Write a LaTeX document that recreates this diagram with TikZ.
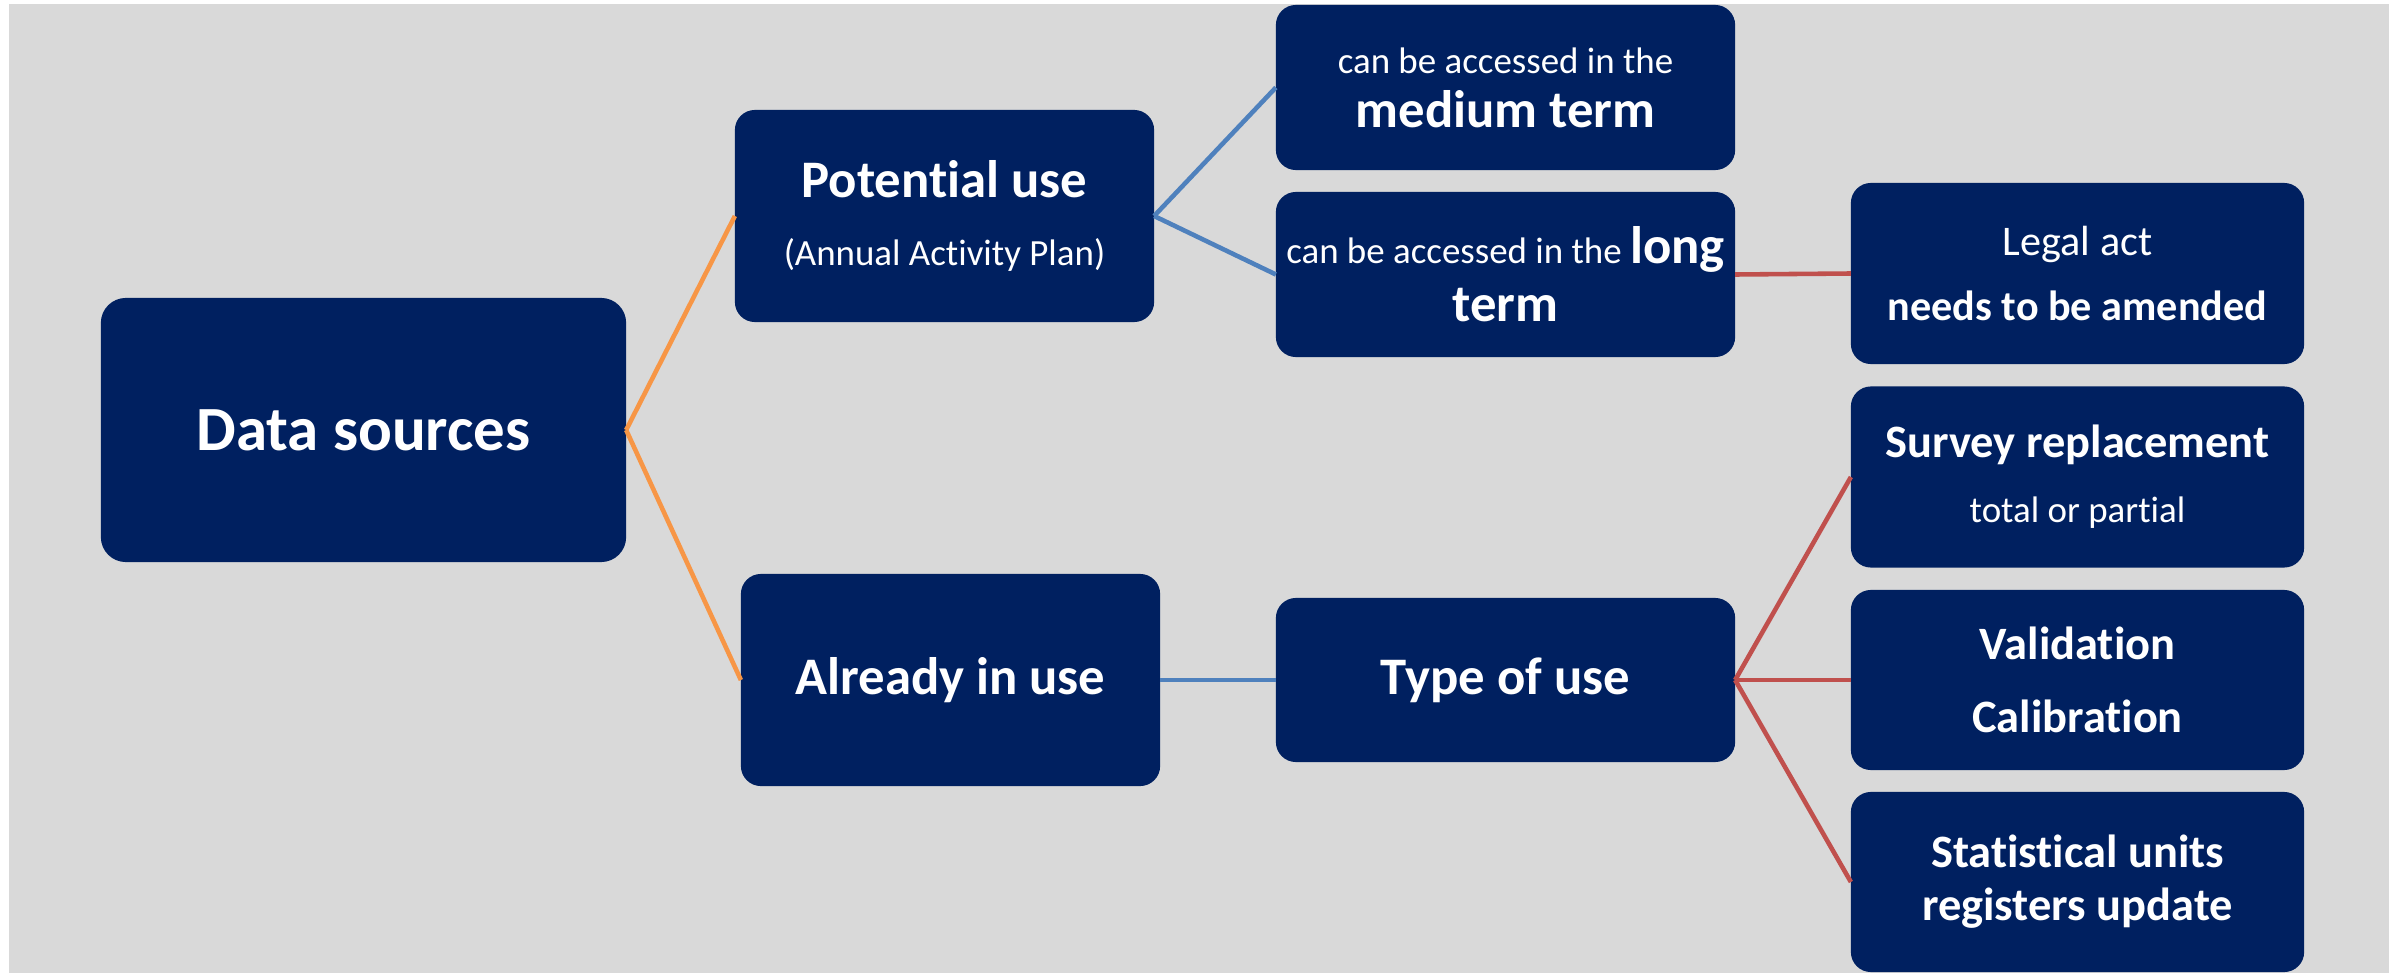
\documentclass[tikz,border=0pt]{standalone}
\usepackage{fontspec}
\setmainfont{Carlito}[RawFeature={-liga}]
\definecolor{navy}{HTML}{002060}
\definecolor{bggrey}{HTML}{D9D9D9}
\definecolor{lorange}{HTML}{F79646}
\definecolor{lblue}{HTML}{4F81BD}
\definecolor{lred}{HTML}{C0504D}
\newcommand{\fsz}[2]{\fontsize{#1}{#2}\selectfont}
\begin{document}
\begin{tikzpicture}[x=0.01cm,y=-0.01cm,
  box/.style={fill=navy, text=white, rounded corners=0.2cm, align=center,
    inner sep=0pt, outer sep=0pt, font=\bfseries},
  conn/.style={line width=1.3pt},
  oline/.style={conn, draw=lorange},
  bline/.style={conn, draw=lblue},
  rline/.style={conn, draw=lred}]
\useasboundingbox (0,0) rectangle (2397,973);
\fill[bggrey] (9,4) rectangle (2389,973);

\node[box, rounded corners=0.25cm, minimum width=5.25cm, minimum height=2.64cm,
  font=\bfseries\fsz{17.9}{20}] (ds) at (363.5,430) {Data sources};

\node[box, minimum width=4.19cm, minimum height=2.12cm, font=\bfseries\fsz{15}{19.3}]
  (pot) at (944.5,216) {Potential use\\{\mdseries\fsz{10.5}{19.3}(Annual Activity Plan)}};

\node[box, minimum width=4.19cm, minimum height=2.12cm, font=\bfseries\fsz{15}{19.3}]
  (air) at (950.5,680) {Already in use};

\node[box, minimum width=4.59cm, minimum height=1.65cm, font=\bfseries\fsz{15}{15.4}]
  (med) at (1505.5,87.5) {{\mdseries\fsz{10.5}{15.4}can be accessed in the}\\medium term};

\node[box, minimum width=4.59cm, minimum height=1.65cm, font=\bfseries\fsz{15}{16.5}]
  (long) at (1505.5,274.5) {{\mdseries\fsz{10.5}{16.5}can be accessed in the }long\\term};

\node[box, minimum width=4.59cm, minimum height=1.64cm, font=\bfseries\fsz{15}{19}]
  (type) at (1505.5,680) {Type of use};

\node[box, minimum width=4.53cm, minimum height=1.81cm, font=\bfseries\fsz{12}{18.5}]
  (legal) at (2077.5,273.5) {{\mdseries Legal act}\\needs to be amended};

\node[box, minimum width=4.53cm, minimum height=1.81cm, font=\bfseries\fsz{13.2}{18.5}]
  (survey) at (2077.5,477) {Survey replacement\\{\mdseries\fsz{10.5}{18.5}total or partial}};

\node[box, minimum width=4.53cm, minimum height=1.80cm, font=\bfseries\fsz{13.2}{20.8}]
  (valid) at (2077.5,680) {Validation\\Calibration};

\node[box, minimum width=4.53cm, minimum height=1.80cm, font=\bfseries\fsz{13.2}{15.1}]
  (stat) at (2077.5,882) {Statistical units\\registers update};

\draw[oline] (ds.east) -- (pot.west);
\draw[oline] (ds.east) -- (air.west);
\draw[bline] (pot.east) -- (med.west);
\draw[bline] (pot.east) -- (long.west);
\draw[bline] (air.east) -- (type.west);
\draw[rline] (long.east) -- (legal.west);
\draw[rline] (type.east) -- (survey.west);
\draw[rline] (type.east) -- (valid.west);
\draw[rline] (type.east) -- (stat.west);
\end{tikzpicture}
\end{document}
